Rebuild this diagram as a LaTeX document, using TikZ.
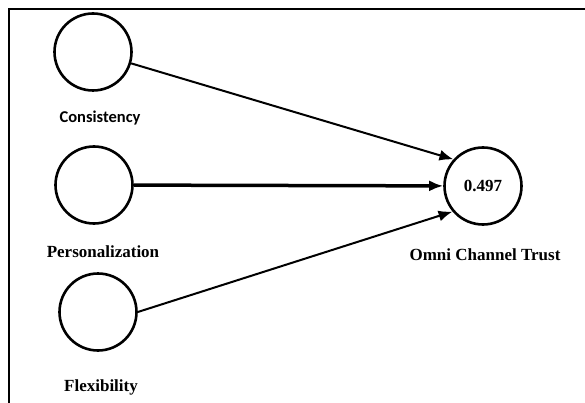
\documentclass[tikz,border=0pt]{standalone}
\usepackage{fontspec}
\setmainfont{Liberation Serif}
\newfontfamily\calibri{Carlito}
\usepackage{tikz}
\usetikzlibrary{arrows.meta,positioning}

\begin{document}
\begin{tikzpicture}[x=1pt,y=-1pt,
  latent/.style={draw, circle, line width=2.6pt, minimum size=77pt, inner sep=0pt},
  lbl/.style={font=\fontsize{17}{20}\selectfont\bfseries, text height=12pt, text depth=4pt, inner sep=0pt},
  link/.style={line width=2pt, -{Latex[length=14pt,width=11pt]}}]

\useasboundingbox (0,0) rectangle (585,403);
\draw[line width=2pt] (9,403) -- (9,9.3) -- (585,9.3);

\node[latent] (c1) at (93,52) {};
\node[latent] (c2) at (94,185) {};
\node[latent] (c3) at (98,312) {};
\node[latent, lbl, text height=, text depth=] (t) at (483,186) {0.497};

\node[lbl, font=\calibri\fontsize{16.5}{20}\selectfont\bfseries, below=19pt of c1, xshift=7pt] (l1) {Consistency};
\node[lbl, below=20pt of c2, xshift=9pt] (l2) {Personalization};
\node[lbl, below=27pt of c3, xshift=3pt] (l3) {Flexibility};
\node[lbl, below=22pt of t, xshift=2pt] (lt) {Omni Channel Trust};

\draw[link] (c1) -- (t.138);
\draw[link, line width=3.5pt] (c2) -- (t);
\draw[link] (c3.east) -- (t.220);
\end{tikzpicture}
\end{document}
